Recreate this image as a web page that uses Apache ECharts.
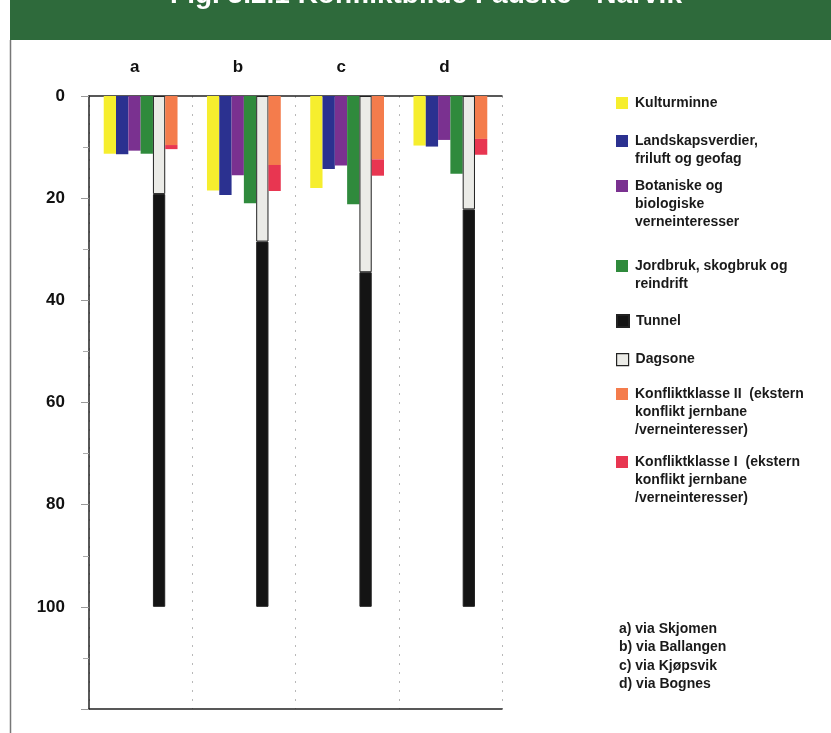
<!DOCTYPE html>
<html><head><meta charset="utf-8">
<script src="https://cdn.jsdelivr.net/npm/echarts@6/dist/echarts.min.js"></script>
<style>html,body{margin:0;padding:0;background:#fff}#c{width:831px;height:733px}</style>
</head><body><div id="c"></div>
<script>
// ---- data ----
const categories = ['a', 'b', 'c', 'd'];
const kulturminne = [11.3, 18.5, 18.0, 9.7];
const landskap    = [11.4, 19.4, 14.3, 9.9];
const botaniske   = [10.7, 15.5, 13.6, 8.6];
const jordbruk    = [11.3, 21.0, 21.2, 15.2];
const dagsone     = [19.2, 28.5, 34.5, 22.2];
const tunnel      = [80.8, 71.5, 65.5, 77.8];
const konflikt2   = [9.6, 13.5, 12.4, 8.4];
const konflikt1   = [0.8, 5.1, 3.2, 3.1];
const yTickLabels = [0, 20, 40, 60, 80, 100];
const seriesNames = [
  'Kulturminne',
  'Landskapsverdier, friluft og geofag',
  'Botaniske og biologiske verneinteresser',
  'Jordbruk, skogbruk og reindrift',
  'Tunnel',
  'Dagsone',
  'Konfliktklasse II (ekstern konflikt jernbane /verneinteresser)',
  'Konfliktklasse I (ekstern konflikt jernbane /verneinteresser)'
];
const legendLines = [
  ['Kulturminne'],
  ['Landskapsverdier,', 'friluft og geofag'],
  ['Botaniske og', 'biologiske', 'verneinteresser'],
  ['Jordbruk, skogbruk og', 'reindrift'],
  ['Tunnel'],
  ['Dagsone'],
  ['Konfliktklasse II  (ekstern', 'konflikt jernbane', '/verneinteresser)'],
  ['Konfliktklasse I  (ekstern', 'konflikt jernbane', '/verneinteresser)']
];
const notes = ['a) via Skjomen', 'b) via Ballangen', 'c) via Kjøpsvik', 'd) via Bognes'];
const titleText = 'Fig. 5.2.1 Konfliktbilde Fauske - Narvik';

// ---- styles / layout ----
const FONT = '"Liberation Sans", Arial, Helvetica, sans-serif';
const colors = ['#f6ee2e', '#2b3190', '#7a3190', '#2f8a3c', '#141414', '#ebebe7', '#f47c4c', '#e83651'];
const BW = 12.3;
const chart = echarts.init(document.getElementById('c'));

function bar(idx, data, stack, extra) {
  return Object.assign({
    name: seriesNames[idx], type: 'bar', data: data, stack: stack,
    barWidth: BW, barGap: '0%', itemStyle: { color: colors[idx] },
    animation: false
  }, extra || {});
}

const series = [
  bar(0, kulturminne),
  bar(1, landskap),
  bar(2, botaniske),
  bar(3, jordbruk),
  bar(5, dagsone, 'dt', { itemStyle: { color: colors[5], borderColor: '#222', borderWidth: 1 } }),
  bar(4, tunnel, 'dt', { itemStyle: { color: colors[4], borderColor: '#222', borderWidth: 1 } }),
  bar(6, konflikt2, 'k'),
  bar(7, konflikt1, 'k')
];

const LH = 18;
const iconCenters = [103, 141, 186, 266, 320, 359, 394, 462];
const legends = seriesNames.map((nm, i) => {
  const n = legendLines[i].length;
  const H = n * LH;
  // square at the first text line; invisible zero-length strokes stretch the icon box to H
  const icon = 'path://M0,3L12,3L12,15L0,15Z M0,0L0.001,0 M0,' + H + 'L0.001,' + H;
  return {
    left: 616, top: iconCenters[i] - LH / 2, padding: 0, orient: 'vertical',
    itemWidth: 12, itemHeight: H, icon: icon, selectedMode: false,
    data: [{ name: nm, itemStyle: i === 5 ? { borderColor: '#222', borderWidth: 1.2 } : undefined }],
    formatter: () => legendLines[i].join('\n'),
    textStyle: {
      fontFamily: FONT, fontSize: 14, fontWeight: 'bold', color: '#1a1a1a',
      lineHeight: LH, padding: [0, 0, 0, 2]
    }
  };
});

const graphics = [
  { type: 'rect', shape: { x: 10, y: 0, width: 821, height: 40 }, style: { fill: '#2e6a3b' }, z: 0 },
  { type: 'line', shape: { x1: 10.5, y1: 40, x2: 10.5, y2: 733 }, style: { stroke: '#777', lineWidth: 1.5 } },
  { type: 'text', x: 426, y: 9, style: { text: titleText, fill: '#fff', font: 'bold 28px ' + FONT, textAlign: 'center', textVerticalAlign: 'bottom' } }
].concat(notes.map((t, i) => ({
  type: 'text', x: 619, y: 629 + i * 18.5,
  style: { text: t, fill: '#1a1a1a', font: 'bold 14px ' + FONT, textVerticalAlign: 'middle' }
})));

chart.setOption({
  animation: false,
  backgroundColor: '#fff',
  grid: { left: 89, right: 329, top: 96, bottom: 24 },
  xAxis: [{
    type: 'category', data: categories, position: 'top',
    axisLine: { lineStyle: { color: '#222', width: 1.5 } },
    axisTick: { show: false },
    axisLabel: { fontFamily: FONT, fontSize: 17, fontWeight: 'bold', color: '#111', margin: 20, padding: [0, 12, 0, 0] },
    splitLine: { show: true, lineStyle: { type: [2, 7], color: '#b8b8b8', width: 1 } }
  }, {
    type: 'category', data: categories, position: 'bottom',
    axisLine: { onZero: false, lineStyle: { color: '#222', width: 1.5 } },
    axisTick: { show: false }, axisLabel: { show: false }, splitLine: { show: false }
  }],
  yAxis: {
    type: 'value', inverse: true, min: 0, max: 120, interval: 20,
    axisLine: { show: true, lineStyle: { color: '#222', width: 1.5 } },
    axisTick: { show: true, length: 8, lineStyle: { color: '#999' } },
    minorTick: { show: true, splitNumber: 2, length: 6, lineStyle: { color: '#aaa' } },
    splitLine: { show: false },
    axisLabel: {
      fontFamily: FONT, fontSize: 17, fontWeight: 'bold', color: '#111', margin: 24,
      formatter: v => yTickLabels.indexOf(v) >= 0 ? String(v) : ''
    }
  },
  legend: legends,
  series: series,
  graphic: graphics
});
</script>
</body></html>
